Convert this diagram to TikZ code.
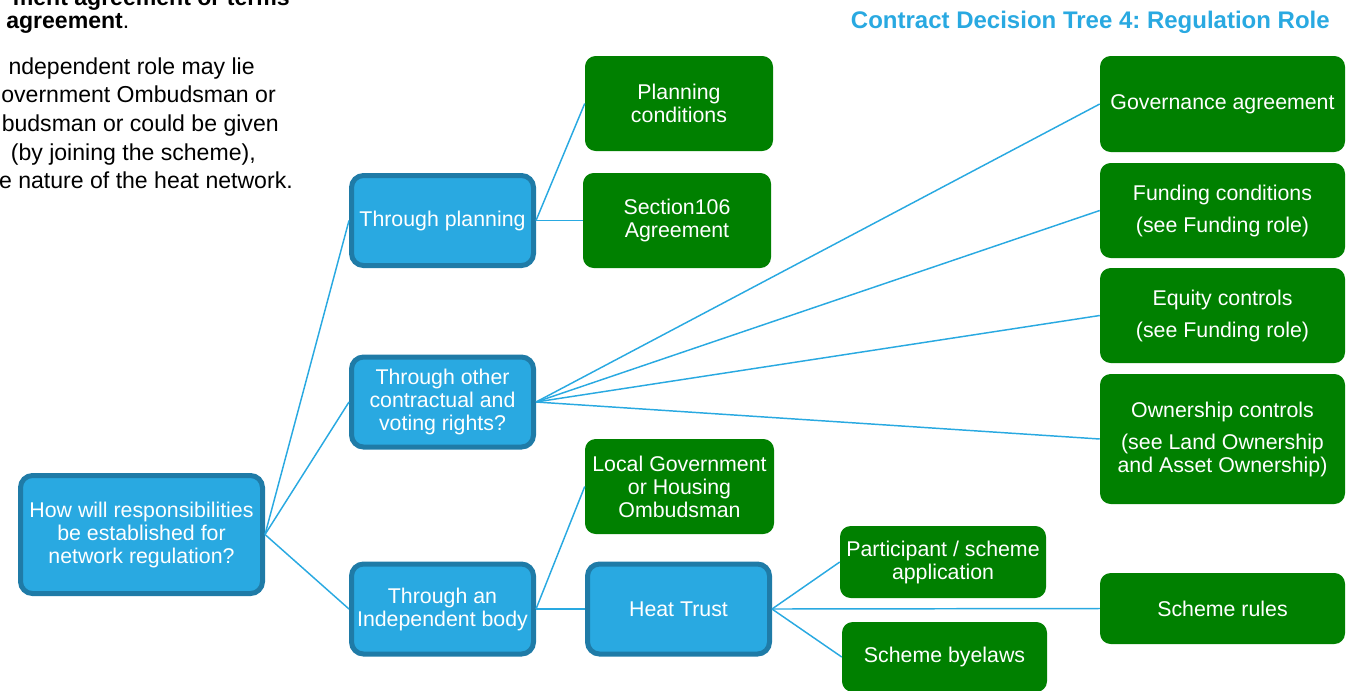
\documentclass[tikz,border=0pt]{standalone}
\usepackage{fontspec}
\setmainfont{Liberation Sans}
\usepackage{tikz}
\frenchspacing

\definecolor{qblue}{HTML}{29A9E1}
\definecolor{qedge}{HTML}{1F7BA7}
\definecolor{ogreen}{HTML}{008000}

\begin{document}
\begin{tikzpicture}[x=0.75pt,y=-0.75pt,
	question/.style={draw=qedge,line width=3.75pt,fill=qblue,rounded corners=9pt,text=white,align=center,inner sep=0pt,font=\fontsize{16}{17.25}\selectfont},
	answer/.style={fill=ogreen,rounded corners=8pt,text=white,align=center,inner sep=0pt,font=\fontsize{16}{17.25}\selectfont},
	link/.style={draw=qblue,line width=1.1pt},
	note/.style={inner sep=0pt,font=\fontsize{17.3}{21}\selectfont}]
	\useasboundingbox (0,0) rectangle (1351,690);
	\clip (0,0) rectangle (1351,690);

	% text beside the tree, cut by the page
	\node[note,anchor=base east] (n0) at (290,5) {\bfseries ment agreement or terms};
	\node[note,anchor=base west] (n1) at (6,28) {\textbf{agreement}.};
	\node[note,anchor=base east] (n2) at (255,74) {ndependent role may lie};
	\node[note,anchor=base east] (n3) at (276,102) {overnment Ombudsman or};
	\node[note,anchor=base east] (n4) at (279,131) {budsman or could be given};
	\node[note,anchor=base east] (n5) at (256,160) {(by joining the scheme),};
	\node[note,anchor=base east] (n6) at (293,188) {e nature of the heat network.};

	\node[anchor=base east,inner sep=0pt,text=qblue,font=\fontsize{18}{21}\selectfont\bfseries] (title) at (1330,28) {Contract Decision Tree 4: Regulation Role};

	% questions
	\node[question,minimum width=181.5pt,minimum height=88.5pt] (root) at (141.5,534.5) {How will responsibilities\\be established for\\network regulation?};
	\node[question,minimum width=136.5pt,minimum height=67.5pt] (plan) at (442.5,220.5) {Through planning};
	\node[question,minimum width=136.5pt,minimum height=67.5pt] (other) at (442.5,402) {Through other\\contractual and\\voting rights?};
	\node[question,minimum width=136.5pt,minimum height=67.5pt] (indep) at (442.5,609) {Through an\\Independent body};
	\node[question,minimum width=136.5pt,minimum height=67.5pt] (trust) at (678.5,609) {Heat Trust};

	% answers
	\node[answer,minimum width=141pt,minimum height=71.25pt] (cond) at (679,103.5) {Planning\\conditions};
	\node[answer,minimum width=141pt,minimum height=71.25pt] (s106) at (677,220.5) {Section106\\Agreement};
	\node[answer,minimum width=141.75pt,minimum height=71.25pt] (ombud) at (679.5,486.5) {Local Government\\or Housing\\Ombudsman};
	\node[answer,minimum width=183.75pt,minimum height=72pt] (gov) at (1222.5,104) {Governance agreement};
	\node[answer,minimum width=183.75pt,minimum height=71.25pt] (fund) at (1222.5,210.5) {Funding conditions\\[6.75pt](see Funding role)};
	\node[answer,minimum width=183.75pt,minimum height=71.25pt] (equity) at (1222.5,315.5) {Equity controls\\[6.75pt](see Funding role)};
	\node[answer,minimum width=183.75pt,minimum height=97.5pt] (own) at (1222.5,439) {Ownership controls\\[6.75pt](see Land Ownership\\and Asset Ownership)};
	\node[answer,minimum width=154.5pt,minimum height=54pt] (apply) at (943,562) {Participant / scheme\\application};
	\node[answer,minimum width=183.75pt,minimum height=53.25pt] (rules) at (1222.5,608.5) {Scheme rules};
	\node[answer,minimum width=153.75pt,minimum height=52.5pt] (bye) at (944.5,657) {Scheme byelaws};

	% connectors
\foreach \n in {plan,other,indep}
	\draw[link] (root.east) -- (\n.west);
\foreach \n in {cond,s106}
	\draw[link] (plan.east) -- (\n.west);
\foreach \n in {gov,fund,equity,own}
	\draw[link] (other.east) -- (\n.west);
\foreach \n in {ombud,trust}
	\draw[link] (indep.east) -- (\n.west);
\foreach \n in {apply,rules,bye}
	\draw[link] (trust.east) -- (\n.west);
\end{tikzpicture}
\end{document}
